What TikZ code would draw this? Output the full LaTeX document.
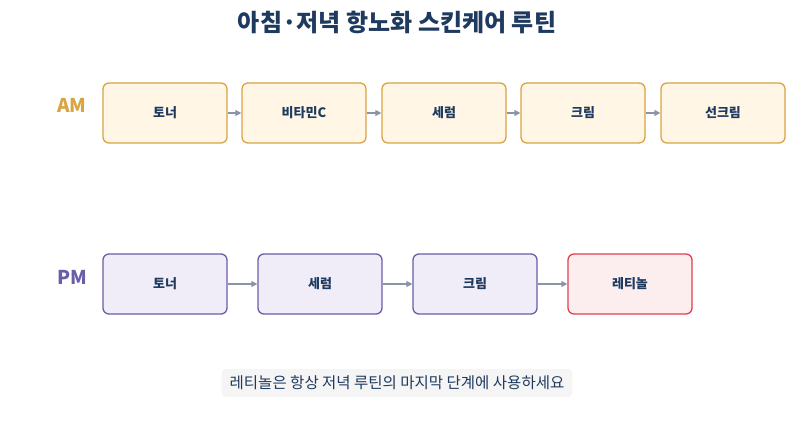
\documentclass[tikz,border=0pt]{standalone}
\usepackage{fontspec}
\setmainfont{Noto Sans CJK KR}
\usetikzlibrary{arrows.meta}
\definecolor{navy}{HTML}{1F3A5F}
\definecolor{amc}{HTML}{D9A441}
\definecolor{amf}{HTML}{FFF6E6}
\definecolor{pmc}{HTML}{6B5EA8}
\definecolor{pmf}{HTML}{F0EDF8}
\definecolor{rc}{HTML}{E04050}
\definecolor{rf}{HTML}{FCEEEE}
\definecolor{arr}{HTML}{8A94A6}
\begin{document}
\begin{tikzpicture}[x=1pt,y=-1pt,
 box/.style={draw,line width=1.3pt,rounded corners=6pt,minimum width=124pt,minimum height=60pt,font=\fontsize{13}{15}\selectfont\bfseries,text=navy},
 am/.style={box,draw=amc,fill=amf},
 pm/.style={box,draw=pmc,fill=pmf},
 ret/.style={box,draw=rc,fill=rf},
 lab/.style={font=\fontsize{19}{22}\selectfont\bfseries},
 con/.style={draw=arr,line width=1.3pt,-{Triangle[length=6pt,width=6pt]}}]
\useasboundingbox (0,0) rectangle (794,435);
\node[font=\fontsize{24}{28}\selectfont\bfseries,text=navy] (t) at (397,22) {아침·저녁 항노화 스킨케어 루틴};
\node[lab,text=amc] (aml) at (72,105) {AM};
\node[lab,text=pmc] (pml) at (72,277) {PM};
\node[am] (a1) at (165,113) {토너};
\node[am] (a2) at (304,113) {비타민C};
\node[am] (a3) at (444,113) {세럼};
\node[am] (a4) at (583,113) {크림};
\node[am] (a5) at (723,113) {선크림};
\node[pm] (p1) at (165,284) {토너};
\node[pm] (p2) at (320,284) {세럼};
\node[pm] (p3) at (475,284) {크림};
\node[ret] (p4) at (630,284) {레티놀};
\foreach \a/\b in {a1/a2,a2/a3,a3/a4,a4/a5,p1/p2,p2/p3,p3/p4} \draw[con] (\a) -- (\b);
\node[fill=gray!8,rounded corners=4pt,inner xsep=8pt,minimum height=28pt,font=\fontsize{15.5}{18}\selectfont,text=navy] (n) at (397,383) {레티놀은 항상 저녁 루틴의 마지막 단계에 사용하세요};
\end{tikzpicture}
\end{document}
